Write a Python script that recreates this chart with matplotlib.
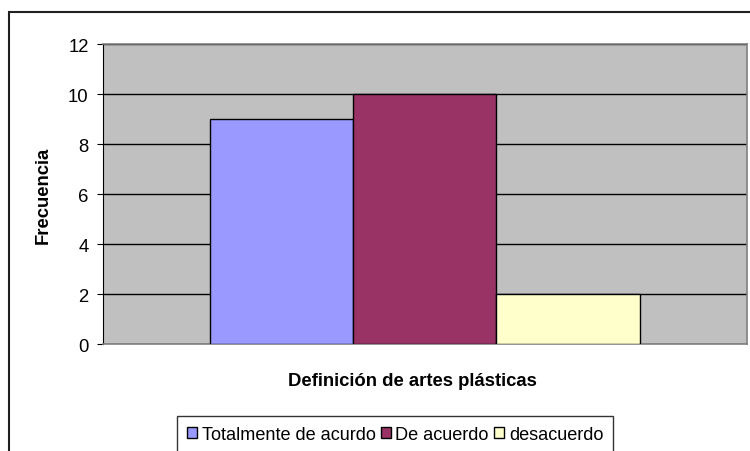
import matplotlib.pyplot as plt
from matplotlib.patches import Rectangle, Patch

plt.rcParams['font.family'] = ['Liberation Sans', 'DejaVu Sans']

series = ['Totalmente de acurdo', 'De acuerdo', 'desacuerdo']
valores = [9, 10, 2]
colores = ['#9999FF', '#993366', '#FFFFCC']
yticks = [0, 2, 4, 6, 8, 10, 12]

fig = plt.figure(figsize=(7.5, 4.52), dpi=100)
W, H = 750, 452

# borde exterior del grafico (cortado a la derecha y abajo)
fig.patches.append(Rectangle((9 / W, -0.1), 2, 1.1 - 12.5 / H, transform=fig.transFigure,
                             fill=False, edgecolor='#202020', linewidth=1.5))

ax = fig.add_axes([102.5 / W, 1 - 345.3 / H, 644.5 / W, 300.3 / H])
ax.set_facecolor('#C0C0C0')

ancho = 1 / (len(valores) + 1.5)
for i, (s, v, c) in enumerate(zip(series, valores, colores)):
    ax.bar((i - 1) * ancho, v, width=ancho, color=c, edgecolor='black',
           linewidth=1, label=s, zorder=3)

ax.set_xlim(-0.5, 0.5)
ax.set_ylim(0, 12)
ax.set_yticks(yticks)
ax.set_xticks([])
ax.yaxis.grid(True, color='black', linewidth=1)
ax.set_axisbelow(True)
ax.tick_params(axis='y', length=4, width=0.8, pad=6, labelsize=13.3)
for lado in ['top', 'right', 'bottom']:
    ax.spines[lado].set_color('#808080')
    ax.spines[lado].set_linewidth(1.2)
ax.spines['left'].set_color('black')

fig.text(412 / W, 1 - 381 / H, 'Definición de artes plásticas', ha='center', va='center',
         fontsize=13.3, fontweight='bold')
fig.text(43 / W, 1 - 195 / H, 'Frecuencia', ha='center', va='center', rotation=90,
         fontsize=13.3, fontweight='bold')

handles = [Patch(facecolor=c, edgecolor='black', linewidth=1) for c in colores]
leg = fig.legend(handles, series, loc='upper left', bbox_to_anchor=(177 / W, 1 - 417 / H),
                 ncol=3, frameon=True, fancybox=False, fontsize=13.1,
                 handlelength=0.55, handleheight=0.55, handletextpad=0.25,
                 columnspacing=0.3, borderpad=0.55, borderaxespad=0)
leg.get_frame().set_edgecolor('black')
leg.get_frame().set_linewidth(1)

fig.savefig('out.png', dpi=100)
